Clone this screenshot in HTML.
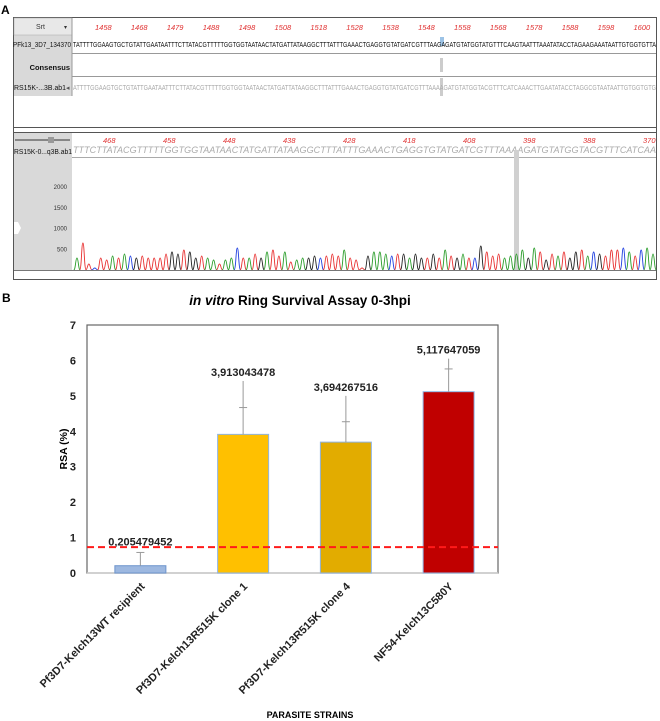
<!DOCTYPE html>
<html><head><meta charset="utf-8"><style>
html,body{margin:0;padding:0;background:#fff;}
svg{display:block;font-family:"Liberation Sans",Arial,sans-serif;}
</style></head><body>
<svg id="fig" width="660" height="721" viewBox="0 0 660 721">
 <g>
  <text x="1" y="14" font-size="12" font-weight="bold">A</text>
  <rect x="13.5" y="17.5" width="643" height="262" fill="#fff" stroke="#555"/>
  <rect x="14" y="18" width="58" height="78" fill="#d9d9d9"/>
  <rect x="14" y="18" width="58" height="17" fill="#e8e8e8" stroke="#aaa" stroke-width="0.5"/>
  <text x="36" y="29" font-size="7" fill="#333">Srt</text>
  <text x="64" y="29" font-size="6" fill="#333">▾</text>
  <text x="13" y="47" font-size="7.5" fill="#111" textLength="58" lengthAdjust="spacingAndGlyphs">PFk13_3D7_134370</text>
  <text x="70" y="70" font-size="7.5" fill="#111" text-anchor="end" font-weight="bold">Consensus</text>
  <text x="14" y="90" font-size="7" fill="#111" textLength="52" lengthAdjust="spacingAndGlyphs">RS15K-...3B.ab1</text>
  <text x="66" y="90" font-size="7" fill="#555">◂</text>
  <line x1="72" y1="53.5" x2="656" y2="53.5" stroke="#999"/>
  <line x1="72" y1="76.5" x2="656" y2="76.5" stroke="#999"/>
  <line x1="72" y1="18" x2="72" y2="96" stroke="#999"/>
  <g id="topNums"></g>
  <rect x="440" y="37" width="4" height="9" fill="#9cc3e6"/>
  <rect x="440" y="58" width="3" height="14" fill="#ccc"/>
  <rect x="440" y="78" width="3" height="18" fill="#ccc"/>
  <text x="73" y="47" font-size="7.5" fill="#111" textLength="583" lengthAdjust="spacingAndGlyphs">TATTTTGGAAGTGCTGTATTGAATAATTTCTTATACGTTTTTGGTGGTAATAACTATGATTATAAGGCTTTATTTGAAACTGAGGTGTATGATCGTTTAAGAGATGTATGGTATGTTTCAAGTAATTTAAATATACCTAGAAGAAATAATTGTGGTGTTA</text>
  <text x="73" y="90" font-size="7.5" fill="#aaa" textLength="583" lengthAdjust="spacingAndGlyphs">ATTTTGGAAGTGCTGTATTGAATAATTTCTTATACGTTTTTGGTGGTAATAACTATGATTATAAGGCTTTATTTGAAACTGAGGTGTATGATCGTTTAAAAGATGTATGGTACGTTTCATCAAACTTGAATATACCTAGGCGTAATAATTGTGGTGTG</text>
  <line x1="14" y1="127.5" x2="656" y2="127.5" stroke="#555"/>
  <line x1="14" y1="132.5" x2="656" y2="132.5" stroke="#555"/>
  <rect x="14" y="133" width="58" height="137" fill="#d9d9d9"/>
  <line x1="15" y1="140" x2="70" y2="140" stroke="#333"/>
  <rect x="48" y="137" width="6" height="6" fill="#999"/>
  <text x="14" y="154" font-size="7" fill="#111" textLength="58" lengthAdjust="spacingAndGlyphs">RS15K-0...q3B.ab1</text>
  <polygon points="14,222 18,222 21,228 18,234 14,234" fill="#fff"/>
  <g id="chromAxis"></g>
  <g id="botNums"></g>
  <text x="73" y="153" font-size="9" fill="#aaa" font-style="italic" textLength="583" lengthAdjust="spacing">TTTCTTATACGTTTTTGGTGGTAATAACTATGATTATAAGGCTTTATTTGAAACTGAGGTGTATGATCGTTTAAAAGATGTATGGTACGTTTCATCAA</text>
  <line x1="72" y1="157.5" x2="656" y2="157.5" stroke="#aaa"/>
  <rect x="514" y="150" width="5" height="120" fill="#d0d0d0"/>
  <g id="trace"></g>
  <line x1="14" y1="270.5" x2="656" y2="270.5" stroke="#777"/>
 </g>
 <g>
  <text x="2" y="302" font-size="12" font-weight="bold">B</text>
  <text x="300" y="305" font-size="13.5" font-weight="bold" text-anchor="middle"><tspan font-style="italic">in vitro</tspan> Ring Survival Assay 0-3hpi</text>
  <g id="chart"></g>
  <text transform="translate(67,449) rotate(-90)" font-size="10.5" font-weight="bold" text-anchor="middle">RSA  (%)</text>
  <text x="310" y="718" font-size="9" font-weight="bold" text-anchor="middle">PARASITE STRAINS</text>
 </g>
</svg>
<script>
const NS='http://www.w3.org/2000/svg';
function mk(tag,attrs,parent,txt){const e=document.createElementNS(NS,tag);for(const k in attrs)e.setAttribute(k,attrs[k]);if(txt!==undefined)e.textContent=txt;parent.appendChild(e);return e;}

// ---- Panel A rulers ----
const topRuler=['1458','1468','1479','1488','1498','1508','1518','1528','1538','1548','1558','1568','1578','1588','1598','1600'];
const botRuler=['468','458','448','438','428','418','408','398','388','370'];
const gt=document.getElementById('topNums');
topRuler.forEach((t,i)=>{const e=mk('text',{x:95+i*35.9,y:30,'font-size':7.5,fill:'#e03030','font-style':'italic'},gt,t);

});
const gb=document.getElementById('botNums');
botRuler.forEach((t,i)=>{const e=mk('text',{x:103+i*60,y:143,'font-size':7.5,fill:'#e03030','font-style':'italic'},gb,t);

});
const chromTicks=[500,1000,1500,2000];
const ca=document.getElementById('chromAxis');
chromTicks.forEach(v=>{const y=270-v*0.0415;
const e=mk('text',{x:67,y:y+2,'font-size':6,fill:'#333','text-anchor':'end'},ca,String(v));

});

// ---- Chromatogram peaks ----
const bases='ATTCTTATACGTTTTTGGTGGTAATAACTATGATTATAAGGCTTTATTTGAAACTGAGGTGTATGATCGTTTAAAAGATGTATGGTACGTTTCATCAA';
const peakHeights=[12,27,6,2,12,10,14,12,16,14,12,14,12,12,12,16,18,16,20,18,12,14,12,10,6,10,12,22,12,12,16,12,18,20,14,18,8,10,12,12,14,12,14,16,14,20,12,10,2,14,18,18,16,14,16,16,12,16,12,12,16,12,20,14,12,16,12,12,24,18,14,16,12,14,16,20,12,22,18,10,16,14,18,12,18,20,14,18,16,14,20,20,22,18,14,20,22,16];
const baseColor={A:'#2a9d2a',C:'#2040e0',G:'#222',T:'#e83030'};
const tr=document.getElementById('trace');
const n=peakHeights.length,x0=74,x1=656,step=(x1-x0)/n;
peakHeights.forEach((h,i)=>{
 const cx=x0+step*(i+0.5),w=step*0.55,b=270;
 const d=`M${cx-w},${b} C${cx-w*0.4},${b} ${cx-w*0.45},${b-h} ${cx},${b-h} C${cx+w*0.45},${b-h} ${cx+w*0.4},${b} ${cx+w},${b}`;
 const p=mk('path',{d:d,fill:'none',stroke:baseColor[bases[i%bases.length]]||'#222','stroke-width':0.9},tr);
 
 
});

// ---- Panel B chart ----
const categories=['Pf3D7-Kelch13WT recipient','Pf3D7-Kelch13R515K clone 1','Pf3D7-Kelch13R515K clone 4','NF54-Kelch13C580Y'];
const values=[0.205479452,3.913043478,3.694267516,5.117647059];
const valueLabels=['0,205479452','3,913043478','3,694267516','5,117647059'];
const errTop=[0.58,5.42,5.0,6.05];
const errMid=[0.58,4.67,4.27,5.76];
const yTicks=[0,1,2,3,4,5,6,7];
const threshold=0.73;
const colors=['#9db8e0','#ffc000','#e2ac00','#c00000'];
const strokes=['#6d94cc','#8eb4e3','#8eb4e3','#8eb4e3'];

const plotL=87,plotR=498,plotT=325,plotB=573,yMax=7;
const yS=v=>plotB-(v/yMax)*(plotB-plotT);
const band=(plotR-plotL)/categories.length;
const xC=i=>plotL+band*(i+0.5)+2;
const barW=51;
const ch=document.getElementById('chart');

let e=mk('rect',{x:plotL,y:plotT,width:plotR-plotL,height:plotB-plotT,fill:'none',stroke:'#666','stroke-width':1.2},ch);


e=mk('line',{x1:plotL,y1:plotB,x2:plotR,y2:plotB,stroke:'#ccc','stroke-width':1.5},ch);



yTicks.forEach(t=>{
 const l=mk('text',{x:76,y:yS(t)+4,'font-size':11,'font-weight':'bold',fill:'#222','text-anchor':'end'},ch,String(t));
 
 
});

categories.forEach((c,i)=>{
 const cx=xC(i);
 const r=mk('rect',{x:cx-barW/2,y:yS(values[i]),width:barW,height:plotB-yS(values[i]),fill:colors[i],stroke:strokes[i],'stroke-width':1},ch);
 
 
 const el=mk('line',{x1:cx,y1:yS(values[i]),x2:cx,y2:yS(errTop[i]),stroke:'#999','stroke-width':1},ch);
 
 
 const ec=mk('line',{x1:cx-4,y1:yS(errMid[i]),x2:cx+4,y2:yS(errMid[i]),stroke:'#999','stroke-width':1},ch);
 
 
 const vl=mk('text',{x:cx,y:yS(errTop[i])-(i===0?7:5),'font-size':11,'font-weight':'bold',fill:'#222','text-anchor':'middle'},ch,valueLabels[i]);
 
 
 const cl=mk('text',{transform:`translate(${cx+5},${plotB+14}) rotate(-45)`,'font-size':11,'font-weight':'bold',fill:'#222','text-anchor':'end'},ch,c);
 
 
});

e=mk('line',{x1:plotL,y1:yS(threshold),x2:plotR,y2:yS(threshold),stroke:'#ff1a1a','stroke-width':2,'stroke-dasharray':'7,4'},ch);


</script>
</body></html>
